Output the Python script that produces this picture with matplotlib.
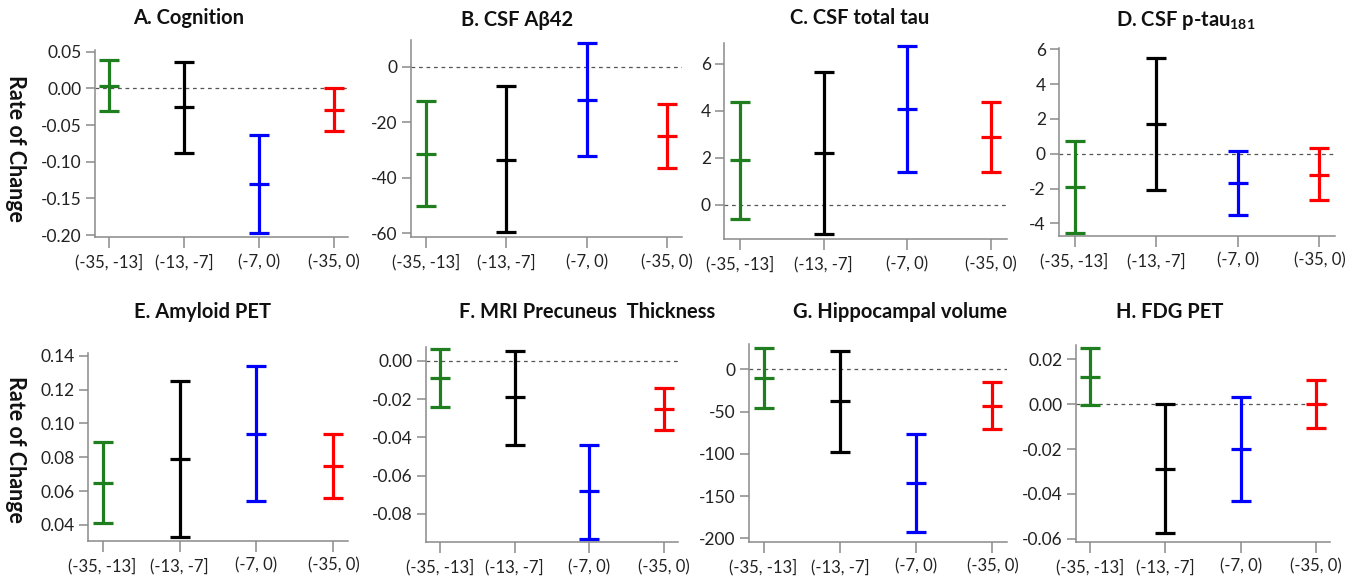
import matplotlib
matplotlib.use("Agg")
import matplotlib.pyplot as plt

plt.rcParams['font.family'] = ['Lato', 'DejaVu Sans']
plt.rcParams['axes.unicode_minus'] = False

# bins of years to onset
categories = ['(-35, -13]', '(-13, -7]', '(-7, 0)', '(-35, 0)']
colors = ['#1f7f1f', '#000000', '#0000ff', '#ff0000']

# estimate, lower CI, upper CI for each panel
cog_mid = [0.003, -0.026, -0.130, -0.029]
cog_lo = [-0.031, -0.088, -0.197, -0.058]
cog_hi = [0.038, 0.036, -0.064, 0.000]

abeta_mid = [-31.5, -33.5, -12.0, -25.0]
abeta_lo = [-50.0, -59.5, -32.0, -36.5]
abeta_hi = [-12.5, -7.0, 8.5, -13.5]

ttau_mid = [1.9, 2.2, 4.1, 2.9]
ttau_lo = [-0.6, -1.25, 1.4, 1.4]
ttau_hi = [4.4, 5.65, 6.75, 4.4]

ptau_mid = [-1.9, 1.7, -1.7, -1.2]
ptau_lo = [-4.55, -2.1, -3.55, -2.65]
ptau_hi = [0.75, 5.5, 0.15, 0.3]

amy_mid = [0.065, 0.079, 0.094, 0.075]
amy_lo = [0.041, 0.033, 0.054, 0.056]
amy_hi = [0.089, 0.125, 0.134, 0.094]

prec_mid = [-0.009, -0.019, -0.068, -0.025]
prec_lo = [-0.024, -0.044, -0.093, -0.036]
prec_hi = [0.006, 0.005, -0.044, -0.014]

hip_mid = [-10, -38, -135, -43]
hip_lo = [-46, -98, -193, -71]
hip_hi = [25, 22, -77, -15]

fdg_mid = [0.012, -0.029, -0.020, 0.0003]
fdg_lo = [-0.0005, -0.0575, -0.043, -0.0105]
fdg_hi = [0.025, 0.0, 0.003, 0.011]

W, H = 1363, 585
fig = plt.figure(figsize=(W / 100, H / 100), dpi=100)

panels = [
    # title, mid, lo, hi, yticks, fmt, ylim, axes px (l, t, r, b), title px (x, y)
    ('A. Cognition', cog_mid, cog_lo, cog_hi, [0.05, 0.0, -0.05, -0.10, -0.15, -0.20], '{:.2f}',
     (-0.2031, 0.0523), (95, 50, 348, 237.3), (189, 18)),
    ('B. CSF Aβ42', abeta_mid, abeta_lo, abeta_hi, [0, -20, -40, -60], '{:.0f}',
     (-61.4, 9.6), (411, 40, 682, 237.3), (517, 20)),
    ('C. CSF total tau', ttau_mid, ttau_lo, ttau_hi, [0, 2, 4, 6], '{:.0f}',
     (-1.46, 6.88), (724, 43.3, 1007, 239.3), (860, 18)),
    ('D. CSF p-tau$_{\\mathregular{181}}$', ptau_mid, ptau_lo, ptau_hi, [-4, -2, 0, 2, 4, 6], '{:.0f}',
     (-4.73, 6.06), (1059, 48.3, 1335, 236), (1186, 20)),
    ('E. Amyloid PET', amy_mid, amy_lo, amy_hi, [0.04, 0.06, 0.08, 0.10, 0.12, 0.14], '{:.2f}',
     (0.0307, 0.1414), (88, 353.3, 348, 540.7), (202, 312)),
    ('F. MRI Precuneus  Thickness', prec_mid, prec_lo, prec_hi, [0.0, -0.02, -0.04, -0.06, -0.08], '{:.2f}',
     (-0.0948, 0.0070), (426, 347.3, 678, 542.3), (587, 312)),
    ('G. Hippocampal volume', hip_mid, hip_lo, hip_hi, [0, -50, -100, -150, -200], '{:.0f}',
     (-204, 29.6), (749, 344.3, 1007, 541.7), (900, 312)),
    ('H. FDG PET', fdg_mid, fdg_lo, fdg_hi, [0.02, 0.0, -0.02, -0.04, -0.06], '{:.2f}',
     (-0.0613, 0.0264), (1076, 345, 1330, 541.7), (1170, 312)),
]

grey = '#8a8a8a'
for title, mid, lo, hi, yt, fmt, ylim, box, tpos in panels:
    l, t, r, b = box
    ax = fig.add_axes([l / W, 1 - b / H, (r - l) / W, (b - t) / H])
    ax.axhline(0, color='#555555', lw=0.9, ls=(0, (3, 3)), zorder=1)
    for i in range(len(categories)):
        ax.errorbar(i, mid[i], yerr=[[mid[i] - lo[i]], [hi[i] - mid[i]]],
                    fmt='_', color=colors[i], ms=14.5, mew=2.3,
                    elinewidth=2.3, capsize=7.2, capthick=2.3, zorder=3)
    ax.set_xlim(-0.19, 3.19)
    ax.set_ylim(*ylim)
    ax.set_xticks(range(len(categories)))
    ax.set_xticklabels(categories)
    ax.set_yticks(yt)
    ax.set_yticklabels([fmt.format(v) if abs(v) > 1e-12 else fmt.format(0) for v in yt])
    for s in ['top', 'right']:
        ax.spines[s].set_visible(False)
    for s in ['left', 'bottom']:
        ax.spines[s].set_color(grey)
        ax.spines[s].set_linewidth(1.1)
    ax.tick_params(axis='y', length=6.5, width=1.1, color=grey, pad=3,
                   labelsize=12.5, labelcolor='#222222')
    ax.tick_params(axis='x', length=8, width=1.1, color=grey, pad=4,
                   labelsize=12, labelcolor='#222222')
    fig.text(tpos[0] / W, 1 - tpos[1] / H, title, ha='center', va='center',
             fontsize=14.5, fontweight='bold', color='#111111')

for yc in [148, 449]:
    fig.text(15 / W, 1 - yc / H, 'Rate of Change', rotation=-90, ha='center', va='center',
             fontsize=15.5, fontweight='bold', color='#111111')

fig.savefig('out.png', dpi=100)
